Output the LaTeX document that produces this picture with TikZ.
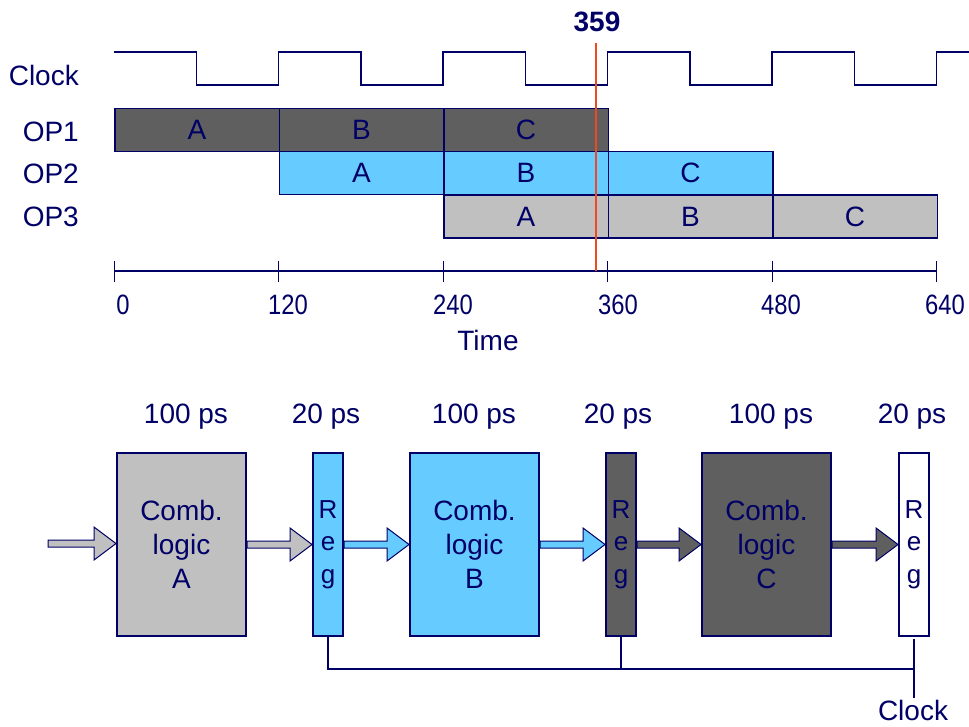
\documentclass[tikz,border=0pt]{standalone}
\usepackage{fontspec}
\setmainfont{Liberation Sans}
\usetikzlibrary{calc}
\definecolor{navy}{RGB}{0,0,102}
\definecolor{dkgray}{RGB}{95,95,95}
\definecolor{ltblue}{RGB}{102,204,255}
\definecolor{ltgray}{RGB}{192,192,192}
\definecolor{redl}{RGB}{240,72,32}
\newcommand\blockarrow[3]{%
  \draw[arrowline, fill=#3] let \p1=(#1), \p2=(#2) in
    (\x1,\y1+3.5) -- (\x2-22,\y1+3.5) -- (\x2-22,\y1+16.5) -- (\x2,\y1)
    -- (\x2-22,\y1-16.5) -- (\x2-22,\y1-3.5) -- (\x1,\y1-3.5) -- cycle;}
\begin{document}
\begin{tikzpicture}[x=1pt,y=-1pt,
  font=\fontsize{28}{34}\selectfont, text=navy,
  cell/.style={draw=navy, line width=1.5pt, minimum width=164.5pt, minimum height=43pt, inner sep=0pt, anchor=north west},
  comb/.style={draw=navy, line width=2pt, minimum width=129pt, minimum height=183pt, inner sep=0pt, anchor=north west, align=center},
  reg/.style={draw=navy, line width=2pt, minimum width=30pt, minimum height=183pt, inner sep=0pt, anchor=north west, align=center, font=\fontsize{26}{32.5}\selectfont},
  arrowline/.style={draw=navy, line width=1pt, line join=miter},
  wire/.style={draw=navy, line width=1.5pt},
  lbl/.style={anchor=base, inner sep=0pt},
  num/.style={anchor=base, inner sep=0pt, font=\fontsize{28}{34}\selectfont},
]
\useasboundingbox (0,0) rectangle (969,727);
% ---- labels left
\node[anchor=base east, inner sep=0pt] (lclk) at (79,86) {Clock};
\node[anchor=base east, inner sep=0pt] (lop1) at (79,142) {OP1};
\node[anchor=base east, inner sep=0pt] (lop2) at (79,184) {OP2};
\node[anchor=base east, inner sep=0pt] (lop3) at (79,227) {OP3};
% ---- clock waveform
\draw[wire] (114,52)
  \foreach \k in {0,2,4,6,8} {
    -- ({196.25+82.25*\k},52) -- ({196.25+82.25*\k},85)
    -- ({278.5+82.25*\k},85) -- ({278.5+82.25*\k},52)
  } -- (969,52);
% ---- bars
\node[cell, fill=dkgray] (o1a) at (114,108) {A};
\node[cell, fill=dkgray] (o1b) at (278.5,108) {B};
\node[cell, fill=dkgray] (o1c) at (443,108) {C};
\node[cell, fill=ltblue] (o2a) at (278.5,151) {A};
\node[cell, fill=ltblue] (o2b) at (443,151) {B};
\node[cell, fill=ltblue] (o2c) at (607.5,151) {C};
\node[cell, fill=ltgray] (o3a) at (443,194.5) {A};
\node[cell, fill=ltgray] (o3b) at (607.5,194.5) {B};
\node[cell, fill=ltgray] (o3c) at (772,194.5) {C};
% ---- time axis
\draw[navy, line width=2pt] (114,271) -- (936.5,271);
\foreach \x/\t/\lx in {114/0/123, 278.5/120/288, 443/240/453, 607.5/360/618, 772/480/781, 936.5/640/945} {
  \draw[navy, line width=1pt] (\x,261) -- (\x,282);
  \node[num] (t\t) at (\lx,315) {\scalebox{0.85}[1]{\t}};
}
\node[lbl] (time) at (488,350) {Time};
% ---- red marker
\draw[redl, line width=2.5pt] (596,43) -- (596,271);
\node[lbl, font=\fontsize{28}{34}\selectfont\bfseries] (t359) at (597,31.5) {359};
% ---- delay labels
\node[lbl] (d1) at (186,423) {100 ps};
\node[lbl] (d2) at (326,423) {20 ps};
\node[lbl] (d3) at (474,423) {100 ps};
\node[lbl] (d4) at (618,423) {20 ps};
\node[lbl] (d5) at (771,423) {100 ps};
\node[lbl] (d6) at (912,423) {20 ps};
% ---- blocks
\node[comb, fill=ltgray] (ca) at (116,452) {Comb.\\logic\\A};
\node[reg, fill=ltblue] (r1) at (312,452) {R\\e\\g};
\node[comb, fill=ltblue] (cb) at (409,452) {Comb.\\logic\\B};
\node[reg, fill=dkgray] (r2) at (605,452) {R\\e\\g};
\node[comb, fill=dkgray] (cc) at (701,452) {Comb.\\logic\\C};
\node[reg, fill=white] (r3) at (898,452) {R\\e\\g};
% ---- block arrows
\coordinate (in) at (48,543.5);
\blockarrow{in}{ca.west}{ltgray}
\blockarrow{ca.east}{r1.west}{ltgray}
\blockarrow{r1.east}{cb.west}{ltblue}
\blockarrow{cb.east}{r2.west}{ltblue}
\blockarrow{r2.east}{cc.west}{dkgray}
\blockarrow{cc.east}{r3.west}{dkgray}
% ---- clock distribution
\coordinate (bus) at (0,669);
\node[lbl] (clk) at (913,720) {Clock};
\draw[wire] (r1.south) -- (r1.south |- bus) -- (bus -| r3.south);
\draw[wire] (r2.south) -- (r2.south |- bus);
\draw[wire, shorten <=2pt] (r3.south) -- (r3.south |- 0,698);
\end{tikzpicture}
\end{document}
